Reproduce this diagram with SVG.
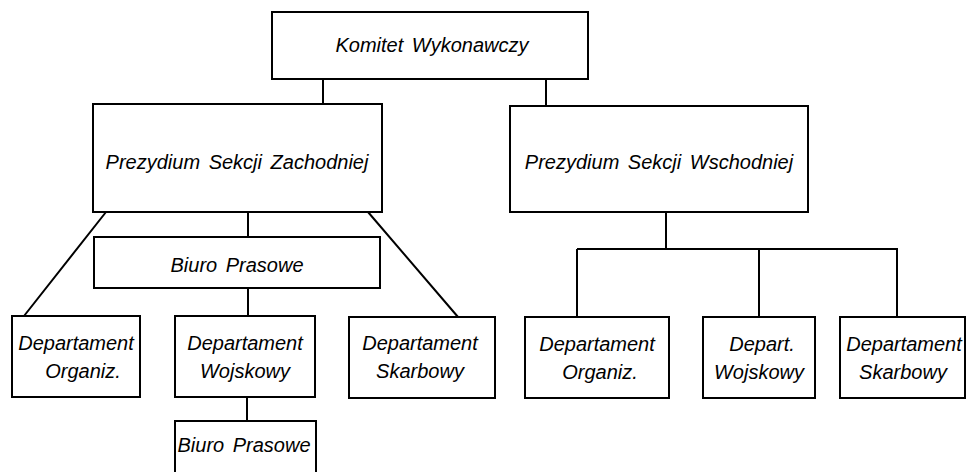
<svg xmlns="http://www.w3.org/2000/svg" width="969" height="472" viewBox="0 0 969 472">
<style>
.box{fill:#fff;stroke:#000;stroke-width:2}
.ln{fill:none;stroke:#000;stroke-width:2}
text{font-family:"Liberation Sans",Arial,sans-serif;font-style:italic;font-size:20px;fill:#000;text-anchor:middle;word-spacing:3px}
</style>
<rect width="969" height="472" fill="#fff"/>
<g id="connectors">
<path class="ln" d="M323 79V104M546 79V106"/>
<path class="ln" d="M106 212L24 316M248 212V237M368 212L458 317M248 288V316M247 397V421"/>
<path class="ln" d="M666 212V249M577 249H898M577 249V317M759 249V317M897 249V317"/>
</g>
<g id="komitet"><rect class="box" x="272" y="12" width="316" height="67"/><text x="432" y="52">Komitet Wykonawczy</text></g>
<g id="prezydium-zachodniej"><rect class="box" x="93" y="104" width="289" height="108"/><text x="237" y="169">Prezydium Sekcji Zachodniej</text></g>
<g id="prezydium-wschodniej"><rect class="box" x="510" y="106" width="298" height="106"/><text x="659" y="169">Prezydium Sekcji Wschodniej</text></g>
<g id="biuro-prasowe"><rect class="box" x="94" y="237" width="286" height="51"/><text x="237" y="272">Biuro Prasowe</text></g>
<g id="dep-organiz-z"><rect class="box" x="12" y="316" width="128" height="81"/><text x="76" y="350">Departament</text><text x="83" y="378">Organiz.</text></g>
<g id="dep-wojskowy-z"><rect class="box" x="175" y="316" width="140" height="81"/><text x="245" y="350">Departament</text><text x="245" y="378">Wojskowy</text></g>
<g id="dep-skarbowy-z"><rect class="box" x="349" y="317" width="146" height="81"/><text x="420" y="350">Departament</text><text x="420" y="378">Skarbowy</text></g>
<g id="biuro-prasowe-2"><rect class="box" x="175" y="421" width="141" height="60"/><text x="244" y="452">Biuro Prasowe</text></g>
<g id="dep-organiz-w"><rect class="box" x="525" y="317" width="144" height="81"/><text x="597" y="351">Departament</text><text x="600" y="379">Organiz.</text></g>
<g id="dep-wojskowy-w"><rect class="box" x="703" y="317" width="112" height="81"/><text x="762" y="351">Depart.</text><text x="759" y="379">Wojskowy</text></g>
<g id="dep-skarbowy-w"><rect class="box" x="840" y="317" width="125" height="81"/><text x="904" y="351">Departament</text><text x="903" y="379">Skarbowy</text></g>
</svg>
